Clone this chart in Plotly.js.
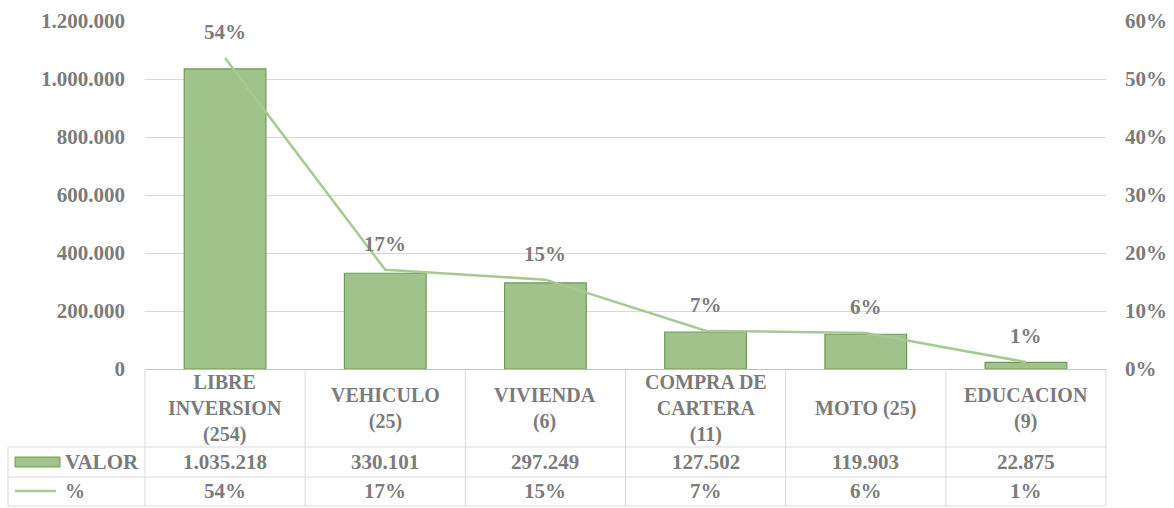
<!DOCTYPE html>
<html>
<head>
<meta charset="utf-8">
<script src="https://cdn.plot.ly/plotly-3.0.1.min.js"></script>
<style>html,body{margin:0;padding:0;background:#fff;}#chart{width:1174px;height:508px;}</style>
</head>
<body>
<div id="chart"></div>
<script>
// ---- Data ----
const categories = ["LIBRE INVERSION (254)", "VEHICULO (25)", "VIVIENDA (6)", "COMPRA DE CARTERA (11)", "MOTO (25)", "EDUCACION (9)"];
const categoryLabels = ["LIBRE<br>INVERSION<br>(254)", "VEHICULO<br>(25)", "VIVIENDA<br>(6)", "COMPRA DE<br>CARTERA<br>(11)", "MOTO (25)", "EDUCACION<br>(9)"];
const valor = [1035218, 330101, 297249, 127502, 119903, 22875];
const valorLabels = ["1.035.218", "330.101", "297.249", "127.502", "119.903", "22.875"];
const pct = [0.536, 0.171, 0.154, 0.066, 0.062, 0.012];
const pctLabels = ["54%", "17%", "15%", "7%", "6%", "1%"];
const leftTicks = [0, 200000, 400000, 600000, 800000, 1000000, 1200000];
const rightTicks = [0, 0.1, 0.2, 0.3, 0.4, 0.5, 0.6];
const seriesNames = ["VALOR", "%"];

// ---- Style ----
const txt = "#7b7b7b";
const F = (size) => ({family: "Times New Roman", size: size || 21, color: txt, weight: "bold"});
const barFill = "#9fc38b";
const barLine = "#6e9a58";
const lineCol = "#a6ca92";
const tableLine = "#d9d9d9";

// pixel -> paper helpers (plot area: x 145..1106, y 21..369)
const L = 145, R = 1106, T = 21, B = 369;
const px = p => (p - L) / (R - L);
const py = p => (B - p) / (B - T);

const traces = [
  {
    type: "bar", name: seriesNames[0], x: categories, y: valor,
    marker: {color: barFill, line: {color: barLine, width: 1.2}},
    showlegend: false, hoverinfo: "x+y"
  },
  {
    type: "scatter", mode: "lines", name: seriesNames[1], x: categories, y: pct, yaxis: "y2",
    line: {color: lineCol, width: 2.5}, showlegend: false
  }
];

const shapes = [];
const annotations = [];

// Table horizontal lines
[447, 477, 506].forEach(p => shapes.push({type: "line", xref: "paper", yref: "paper",
  x0: px(8), x1: 1, y0: py(p), y1: py(p), line: {color: tableLine, width: 1}}));
// Table vertical lines
for (let i = 0; i <= categories.length; i++) {
  const xv = i / categories.length;
  shapes.push({type: "line", xref: "paper", yref: "paper", x0: xv, x1: xv, y0: 0, y1: py(506),
    line: {color: tableLine, width: 1}});
}
shapes.push({type: "line", xref: "paper", yref: "paper", x0: px(8), x1: px(8), y0: py(447), y1: py(506),
  line: {color: tableLine, width: 1}});

// Legend keys in table
shapes.push({type: "rect", xref: "paper", yref: "paper", x0: px(15), x1: px(60), y0: py(467), y1: py(457),
  fillcolor: barFill, line: {color: barLine, width: 1}});
shapes.push({type: "line", xref: "paper", yref: "paper", x0: px(15), x1: px(56), y0: py(491), y1: py(491),
  line: {color: lineCol, width: 2.5}});
annotations.push({xref: "paper", yref: "paper", x: px(141), y: py(462), xanchor: "right", yanchor: "middle",
  text: seriesNames[0], showarrow: false, font: F(21)});
annotations.push({xref: "paper", yref: "paper", x: px(63), y: py(491), xanchor: "left", yanchor: "middle",
  text: seriesNames[1], showarrow: false, font: F(20)});

// Category labels, values and percentages per column
categories.forEach((c, i) => {
  annotations.push({xref: "x", yref: "paper", x: c, y: py(408), xanchor: "center", yanchor: "middle",
    text: categoryLabels[i], showarrow: false, font: F(20), align: "center"});
  annotations.push({xref: "x", yref: "paper", x: c, y: py(462), xanchor: "center", yanchor: "middle",
    text: valorLabels[i], showarrow: false, font: F(21)});
  annotations.push({xref: "x", yref: "paper", x: c, y: py(491), xanchor: "center", yanchor: "middle",
    text: pctLabels[i], showarrow: false, font: F(21)});
  // data labels above line
  annotations.push({xref: "x", yref: "y2", x: c, y: pct[i], yshift: 26, xanchor: "center", yanchor: "middle",
    text: pctLabels[i], showarrow: false, font: F(21)});
});

const layout = {
  width: 1174, height: 508,
  margin: {l: L, r: 1174 - R, t: T, b: 508 - B, pad: 0},
  paper_bgcolor: "#fff", plot_bgcolor: "#fff",
  separators: ",.",
  bargap: 0.49,
  font: F(21),
  showlegend: false,
  xaxis: {
    type: "category", showticklabels: false, ticks: "", showgrid: false,
    showline: true, linecolor: "#bfbfbf", linewidth: 1, zeroline: false
  },
  yaxis: {
    range: [0, 1200000], tickvals: leftTicks, tickformat: ",d",
    showgrid: true, gridcolor: tableLine, gridwidth: 1, zeroline: false,
    showline: false, ticks: "", ticklabelstandoff: 19, tickfont: F(21)
  },
  yaxis2: {
    range: [0, 0.6], tickvals: rightTicks, tickformat: ".0%", overlaying: "y", side: "right",
    showgrid: false, zeroline: false, showline: false, ticks: "", ticklabelstandoff: 18, tickfont: F(21)
  },
  shapes: shapes,
  annotations: annotations
};

Plotly.newPlot("chart", traces, layout, {displayModeBar: false, staticPlot: true});
</script>
</body>
</html>
